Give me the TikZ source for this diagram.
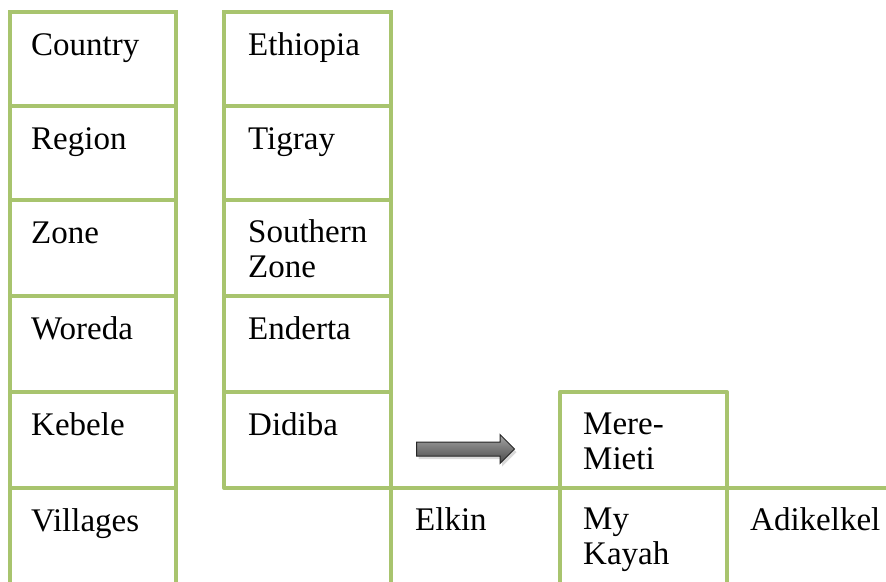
\documentclass[tikz,border=0pt]{standalone}
\usepackage{fontspec}
\setmainfont{Liberation Serif}
\usetikzlibrary{shapes.arrows,shadows}
\definecolor{gitter}{RGB}{168,196,110}
\tikzset{
	linie/.style={line width=4pt, draw=gitter, line join=round, line cap=rect},
	zelle/.style={anchor=base west, inner sep=0pt, align=left,
		font=\fontsize{33}{35}\selectfont},
	pfeil/.style={single arrow, draw=black!85, line width=1pt,
		top color=black!35, bottom color=black!72,
		inner xsep=0pt, inner ysep=6.5pt,
		minimum height=98pt, minimum width=28pt,
		single arrow head extend=7.5pt, single arrow head indent=0pt,
		drop shadow={shadow xshift=2pt, shadow yshift=-3pt, opacity=0.3}}
}

\begin{document}
\begin{tikzpicture}[x=1pt,y=-1pt]
	\useasboundingbox (0,0) rectangle (886,581);
	% Linien erste Spalte
	\foreach \y in {12,106,200,296,392,488}
		\draw[linie] (10,\y) -- (176,\y);
	\draw[linie] (10,12) -- (10,590);
	\draw[linie] (176,12) -- (176,590);
	% Linien zweite Spalte
	\foreach \y in {12,106,200,296,392}
		\draw[linie] (224,\y) -- (391,\y);
	\draw[linie] (224,12) -- (224,488) -- (895,488);
	\draw[linie] (391,12) -- (391,590);
	% Kasten Mere-Mieti
	\draw[linie] (560,590) -- (560,392) -- (727,392) -- (727,590);

	% Beschriftungen erste Spalte
	\node[zelle] (country) at (31,55) {Country};
	\node[zelle] (region) at (31,149) {Region};
	\node[zelle] (zone) at (31,243) {Zone};
	\node[zelle] (woreda) at (31,339) {Woreda};
	\node[zelle] (kebele) at (31,435) {Kebele};
	\node[zelle] (villages) at (31,531) {Villages};
	% Beschriftungen zweite Spalte (Basis = letzte Zeile)
	\node[zelle] (ethiopia) at (248,55) {Ethiopia};
	\node[zelle] (tigray) at (248,149) {Tigray};
	\node[zelle] (southern) at (248,277) {Southern\\Zone};
	\node[zelle] (enderta) at (248,339) {Enderta};
	\node[zelle] (didiba) at (248,435) {Didiba};
	% Dorfer
	\node[zelle] (elkin) at (415,530) {Elkin};
	\node[zelle] (meremieti) at (583,469) {Mere-\\Mieti};
	\node[zelle] (mykayah) at (583,564) {My\\Kayah};
	\node[zelle] (adikelkel) at (750,530) {Adikelkel};

	% Pfeil
	\node[pfeil] (pfeil) at (462,449) {};
\end{tikzpicture}
\end{document}
